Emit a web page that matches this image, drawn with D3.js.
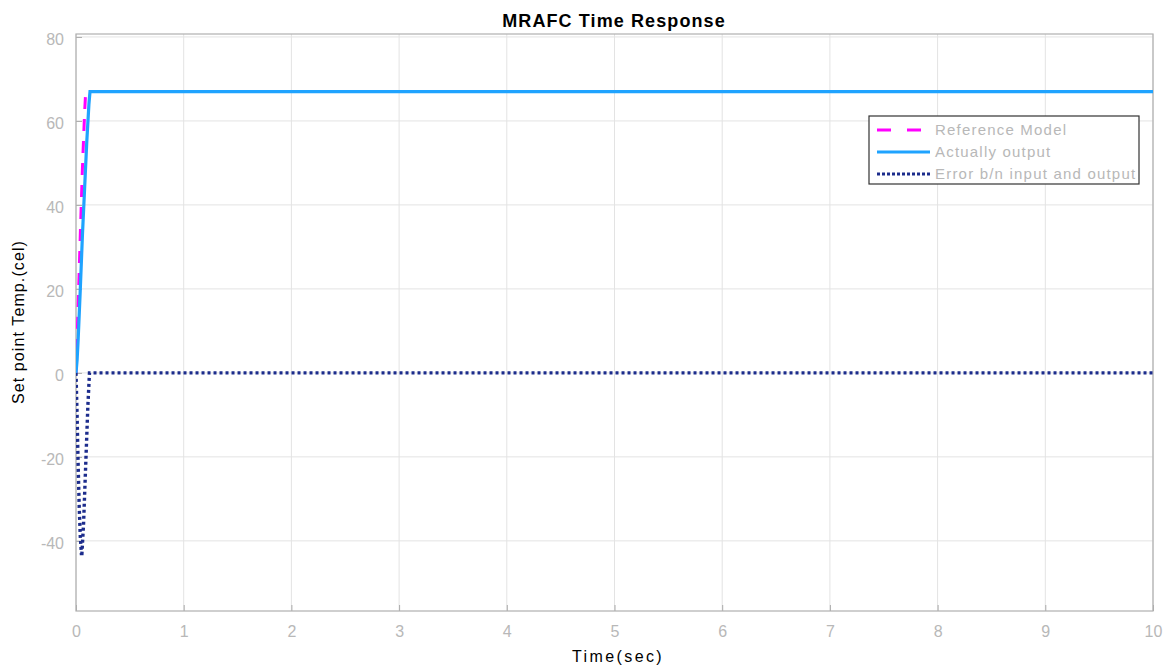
<!DOCTYPE html>
<html><head><meta charset="utf-8">
<script src="https://cdn.jsdelivr.net/npm/d3@7"></script>
<style>body{margin:0;background:#fff;}svg{display:block;}</style>
</head><body>
<svg id="c" width="1169" height="668"></svg>
<script>
const xTicks = [0,1,2,3,4,5,6,7,8,9,10];
const yTicks = [-40,-20,0,20,40,60,80];
const refT = [0, 0.02, 0.04, 0.06, 0.08, 0.09, 10];
const refV = [0, 16, 33, 49, 62, 67, 67];
const outT = [0, 0.01, 0.02, 0.04, 0.06, 0.08, 0.1, 0.12, 0.13, 10];
const outV = [0, 3, 8, 20, 33, 44, 55, 64, 67, 67];
const errT = [0, 0.01, 0.02, 0.03, 0.04, 0.05, 0.055, 0.07, 0.09, 0.11, 0.125, 10];
const errV = [0, -10, -22, -32, -39, -43, -43, -36, -22, -8, 0, 0];
const seriesNames = ["Reference Model", "Actually output", "Error b/n input and output"];

const svg = d3.select("#c");
const L = 76, R = 1153, T = 34, B = 611;
const x = d3.scaleLinear().domain([0,10]).range([L,R]);
const y = d3.scaleLinear().domain([-56.7,80.7]).range([B,T]);
const tickCol = "#b8b8b8";
const ff = "Liberation Sans, Arial, sans-serif";

// grid
svg.append("g").selectAll("line").data(xTicks).join("line")
  .attr("x1",d=>x(d)).attr("x2",d=>x(d)).attr("y1",T).attr("y2",B)
  .attr("stroke","#e3e3e3").attr("stroke-width",1);
svg.append("g").selectAll("line").data(yTicks).join("line")
  .attr("x1",L).attr("x2",R).attr("y1",d=>y(d)).attr("y2",d=>y(d))
  .attr("stroke","#e3e3e3").attr("stroke-width",1);

// axes
const fmt = d => String(d);
const xa = d3.axisBottom(x).tickValues(xTicks).tickSize(-6).tickPadding(15).tickFormat(fmt);
const ya = d3.axisLeft(y).tickValues(yTicks).tickSize(-6).tickPadding(12).tickFormat(fmt);
const gx = svg.append("g").attr("transform",`translate(0,${B})`).call(xa);
const gy = svg.append("g").attr("transform",`translate(${L},0)`).call(ya);
[gx,gy].forEach(g=>{
  g.select(".domain").remove();
  g.selectAll(".tick line").attr("stroke","#aaa");
  g.selectAll(".tick text").attr("fill",tickCol).attr("font-family",ff).attr("font-size",16);
});
gy.selectAll(".tick text").attr("dy","0.45em");
// box
svg.append("rect").attr("x",L).attr("y",T).attr("width",R-L).attr("height",B-T)
  .attr("fill","none").attr("stroke","#b0b0b0").attr("stroke-width",1.2);

svg.append("clipPath").attr("id","cp").append("rect")
  .attr("x",L).attr("y",T).attr("width",R-L).attr("height",B-T);

const line = d3.line().x(d=>x(d[0])).y(d=>y(d[1]));
const g = svg.append("g").attr("clip-path","url(#cp)");
g.append("path").datum(refT.map((t,i)=>[t,refV[i]])).attr("d",line)
  .attr("fill","none").attr("stroke","#ff00ff").attr("stroke-width",3).attr("stroke-dasharray","12,10");
g.append("path").datum(outT.map((t,i)=>[t,outV[i]])).attr("d",line)
  .attr("fill","none").attr("stroke","#1fa3ff").attr("stroke-width",3.2);
g.append("path").datum(errT.map((t,i)=>[t,errV[i]])).attr("d",line)
  .attr("fill","none").attr("stroke","#1c2c8c").attr("stroke-width",3.4).attr("stroke-dasharray","3,3");

// title & labels
svg.append("text").attr("x",614).attr("y",27).attr("text-anchor","middle")
  .attr("font-family",ff).attr("font-size",18).attr("font-weight","bold")
  .attr("letter-spacing","1.1px").text("MRAFC Time Response");
svg.append("text").attr("x",618).attr("y",662).attr("text-anchor","middle")
  .attr("font-family",ff).attr("font-size",16).attr("letter-spacing","2.4px").text("Time(sec)");
svg.append("text").attr("transform","translate(24,322) rotate(-90)").attr("text-anchor","middle")
  .attr("font-family",ff).attr("font-size",16).attr("letter-spacing","1.1px").text("Set point Temp.(cel)");

// legend
const lg = svg.append("g");
lg.append("rect").attr("x",869).attr("y",116).attr("width",270).attr("height",68)
  .attr("fill","#fff").attr("stroke","#333").attr("stroke-width",1.2);
const styles = [
  {c:"#ff00ff", w:3, da:"14,16"},
  {c:"#1fa3ff", w:3.2, da:null},
  {c:"#1c2c8c", w:3, da:"3,2"}
];
seriesNames.forEach((n,i)=>{
  const yy = 130 + i*22;
  const ln = lg.append("line").attr("x1",877).attr("x2",930).attr("y1",yy).attr("y2",yy)
    .attr("stroke",styles[i].c).attr("stroke-width",styles[i].w);
  if (styles[i].da) ln.attr("stroke-dasharray",styles[i].da);
  lg.append("text").attr("x",935).attr("y",yy+5).attr("font-family",ff).attr("font-size",15)
    .attr("letter-spacing","1.2px").attr("fill",tickCol).text(n);
});
</script>
</body></html>
